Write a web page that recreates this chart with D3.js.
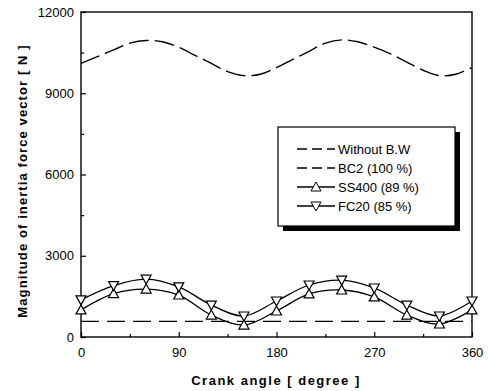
<!DOCTYPE html>
<html>
<head>
<meta charset="utf-8">
<script src="https://cdn.jsdelivr.net/npm/d3@7"></script>
<style>
	body { margin:0; background:#fff; }
	text { font-family:"Liberation Sans", Arial, sans-serif; fill:#000; }
</style>
</head>
<body>
<div id="graph"></div>
<script>
//Javascript Document

//crank angles, one value every 15 degrees for the dashed curve
var angleFine = [0,15,30,45,60,75,90,105,120,135,150,165,180,195,210,225,240,255,270,285,300,315,330,345,360];
var withoutBW = [10100,10350,10600,10850,10950,10900,10700,10400,10100,9800,9650,9700,9950,10250,10550,10850,10970,10900,10700,10450,10150,9850,9650,9700,9950];

//marker angles, every 30 degrees
var angleMark = [0,30,60,90,120,150,180,210,240,270,300,330,360];
var bc2 = [580,580,580,580,580,580,580,580,580,580,580,580,580];
var ss400 = [1000,1600,1770,1550,810,440,960,1590,1735,1480,810,480,1000];
var fc20 = [1370,1900,2140,1850,1180,775,1330,1920,2100,1810,1180,775,1330];

var xTicks = [0,90,180,270,360];
var yTicks = [0,3000,6000,9000,12000];
var legendNames = ["Without B.W","BC2 (100 %)","SS400 (89 %)","FC20 (85 %)"];

(function(){
	"use strict";

	var width = 488, height = 391;
	var left = 81, right = 472, top = 12, bottom = 337;

	var svg = d3.select("#graph").append("svg")
		.attr("width", width)
		.attr("height", height);

	var xScale = d3.scaleLinear().domain([0,360]).range([left,right]);
	var yScale = d3.scaleLinear().domain([0,12000]).range([bottom,top]);

	//frame
	svg.append("rect")
		.attr("x", left).attr("y", top)
		.attr("width", right-left).attr("height", bottom-top)
		.attr("fill", "none").attr("stroke", "#000").attr("stroke-width", 1.4);

	//axes with ticks pointing into the plot
	var xAxis = d3.axisBottom(xScale).tickValues(xTicks).tickSize(-5).tickPadding(11).tickFormat(d3.format("d"));
	var yAxis = d3.axisLeft(yScale).tickValues(yTicks).tickSize(-5).tickPadding(7).tickFormat(d3.format("d"));

	var gx = svg.append("g").attr("transform", "translate(0," + bottom + ")").call(xAxis);
	var gy = svg.append("g").attr("transform", "translate(" + left + ",0)").call(yAxis);
	[gx, gy].forEach(function(g){
		g.select(".domain").remove();
		g.selectAll("line").attr("stroke", "#000").attr("stroke-width", 1.2);
		g.selectAll("text").attr("font-size", 13).attr("font-family", "Liberation Sans, Arial, sans-serif");
	});

	//minor ticks halfway between the majors
	var xMinor = d3.axisBottom(xScale).tickValues([45,135,225,315]).tickSize(-3).tickFormat("");
	var yMinor = d3.axisLeft(yScale).tickValues([1500,4500,7500,10500]).tickSize(-3).tickFormat("");
	[svg.append("g").attr("transform", "translate(0," + bottom + ")").call(xMinor),
	 svg.append("g").attr("transform", "translate(" + left + ",0)").call(yMinor)].forEach(function(g){
		g.select(".domain").remove();
		g.selectAll("line").attr("stroke", "#000").attr("stroke-width", 1.2);
	});

	var plot = svg.append("g");

	var line = d3.line()
		.x(function(d){ return xScale(d[0]); })
		.y(function(d){ return yScale(d[1]); })
		.curve(d3.curveCatmullRom);

	//dashed curves
	plot.append("path")
		.attr("d", line(d3.zip(angleFine, withoutBW)))
		.attr("fill", "none").attr("stroke", "#000").attr("stroke-width", 1.4)
		.attr("stroke-dasharray", "20,6");

	plot.append("path")
		.attr("d", line(d3.zip(angleMark, bc2)))
		.attr("fill", "none").attr("stroke", "#000").attr("stroke-width", 1.3)
		.attr("stroke-dasharray", "18,8");

	//solid curves with triangle markers
	var triUp = "M0,-5L5,4L-5,4Z";
	var triDown = "M0,5L5,-4L-5,-4Z";
	var marked = [[ss400, triUp], [fc20, triDown]];

	marked.forEach(function(s){
		var pts = d3.zip(angleMark, s[0]);
		plot.append("path")
			.attr("d", line(pts))
			.attr("fill", "none").attr("stroke", "#000").attr("stroke-width", 1.3);
		plot.selectAll(null)
			.data(pts)
			.enter()
			.append("path")
			.attr("d", s[1])
			.attr("transform", function(d){ return "translate(" + xScale(d[0]) + "," + yScale(d[1]) + ")"; })
			.attr("fill", "#fff").attr("stroke", "#000").attr("stroke-width", 1.2);
	});

	//legend box with a heavy shadow
	var lx = 278, ly = 127, lw = 177, lh = 99;
	svg.append("rect").attr("x", lx+5).attr("y", ly+5).attr("width", lw).attr("height", lh).attr("fill", "#000");
	svg.append("rect").attr("x", lx).attr("y", ly).attr("width", lw).attr("height", lh)
		.attr("fill", "#fff").attr("stroke", "#000").attr("stroke-width", 1.2);

	var legend = svg.append("g");
	legendNames.forEach(function(name, i){
		var y = ly + 22 + i*19;
		var g = legend.append("g").attr("transform", "translate(" + (lx+19) + "," + y + ")");
		g.append("line")
			.attr("x1", 0).attr("x2", 38).attr("y1", 0).attr("y2", 0)
			.attr("stroke", "#000").attr("stroke-width", 1.3)
			.attr("stroke-dasharray", i < 2 ? "10,5" : null);
		if (i == 2) g.append("path").attr("d", triUp).attr("transform", "translate(19,0)").attr("fill", "#fff").attr("stroke", "#000");
		if (i == 3) g.append("path").attr("d", triDown).attr("transform", "translate(19,0)").attr("fill", "#fff").attr("stroke", "#000");
		g.append("text").attr("x", 41).attr("y", 4.5).attr("font-size", 13).text(name);
	});

	//axis titles
	svg.append("text")
		.attr("text-anchor", "middle")
		.attr("transform", "translate(276,385)")
		.attr("font-size", 13).attr("font-weight", "bold").attr("letter-spacing", 1.5)
		.text("Crank angle  [ degree ]");

	svg.append("text")
		.attr("text-anchor", "middle")
		.attr("transform", "translate(27,181)rotate(-90)")
		.attr("font-size", 13).attr("font-weight", "bold").attr("letter-spacing", 1.1)
		.text("Magnitude of inertia force vector  [ N ]");
})();
</script>
</body>
</html>
